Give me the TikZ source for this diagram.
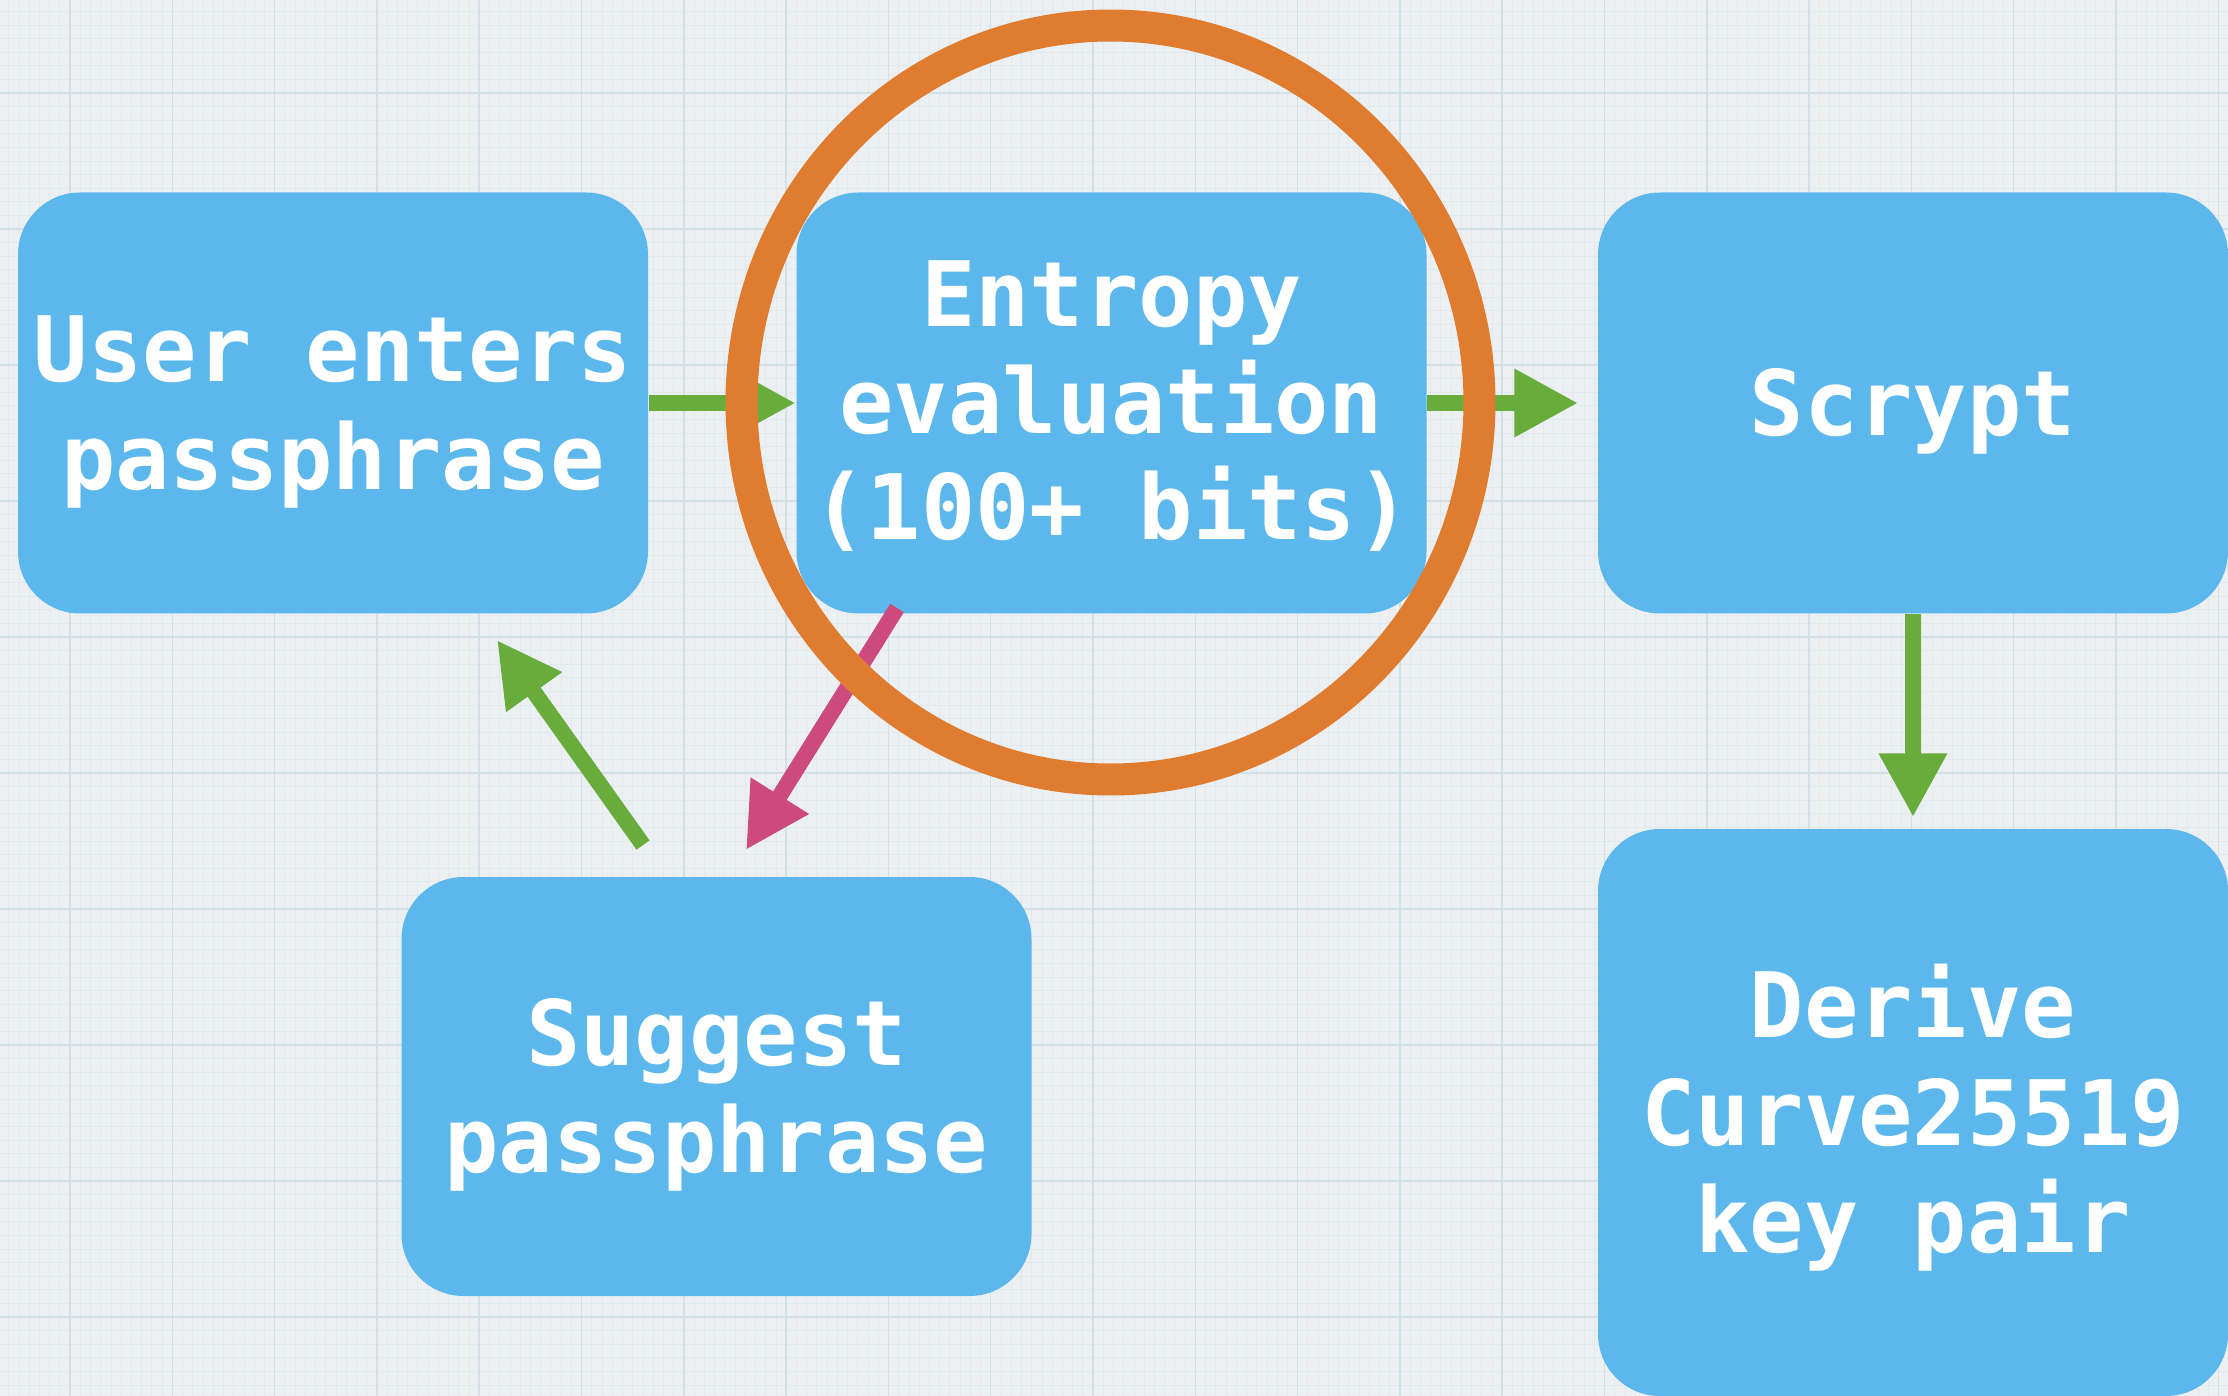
\documentclass[tikz,border=0pt]{standalone}
\usepackage{fontspec}
\setmonofont{DejaVu Sans Mono}
\usetikzlibrary{arrows.meta}
\definecolor{bg}{HTML}{EDF0F2}
\definecolor{gmaj}{HTML}{D1E1E5}
\definecolor{gmin}{HTML}{E2E9EC}
\definecolor{boxblue}{HTML}{5CB8EC}
\definecolor{arrgreen}{HTML}{68AD3C}
\definecolor{arrpink}{HTML}{CC4A7E}
\definecolor{ringorange}{HTML}{E07C2F}
\newcommand\toppad{\rule{0pt}{8.4mm}}
\newcommand\toppadsmall{\rule{0pt}{7.2mm}}
\tikzset{
  stepbox/.style={rectangle, rounded corners=6.2mm, fill=boxblue, text=white,
    align=center, inner sep=0pt, minimum width=63mm, minimum height=42.1mm,
    font=\ttfamily\bfseries\fontsize{25.7pt}{30.6pt}\selectfont},
  garrow/.style={draw=arrgreen, line width=1.6mm, -{Triangle[length=6.4mm,width=6.4mm]}},
  parrow/.style={draw=arrpink, line width=1.6mm, -{Triangle[length=6.4mm,width=6.4mm]}},
  ring/.style={draw=ringorange, line width=3.2mm},
  gridmajor/.style={draw=gmaj, line width=0.15mm},
  gridminor/.style={draw=gmin, line width=0.07mm}
}
\begin{document}
\begin{tikzpicture}[x=0.1mm,y=-0.1mm]
\useasboundingbox (0,0) rectangle (2228,1396);
\fill[bg] (0,0) rectangle (2228,1396);
% minor grid
\foreach \k in {-1,...,21}{\foreach \j in {1,...,9}{\draw[gridminor] ({70+102.3*\k+10.23*\j},0) -- ({70+102.3*\k+10.23*\j},1396);}}
\foreach \k in {-1,...,9}{\foreach \j in {1,...,9}{\draw[gridminor] (0,{93+136*\k+13.6*\j}) -- (2228,{93+136*\k+13.6*\j});}}
% major grid
\foreach \k in {0,...,21}{\draw[gridmajor] ({70+102.3*\k},0) -- ({70+102.3*\k},1396);}
\foreach \k in {0,...,9}{\draw[gridmajor] (0,{93+136*\k}) -- (2228,{93+136*\k});}
% boxes
\node[stepbox] (user) at (333,403) {\toppad User enters\\passphrase};
\node[stepbox, font=\ttfamily\bfseries\fontsize{25.7pt}{30.2pt}\selectfont] (entropy) at (1111.5,403) {\toppadsmall Entropy\\evaluation\\(100+ bits)};
\node[stepbox] (scrypt) at (1913,403) {\toppad Scrypt};
\node[stepbox, minimum height=41.9mm] (suggest) at (716.5,1086.5) {\toppad Suggest\\passphrase};
\node[stepbox, minimum height=56.7mm] (derive) at (1913,1112.5) {\toppad Derive\\Curve25519\\key pair};
% connectors
\coordinate (a4s) at (643,845);
\coordinate (a4e) at (497,640);
\coordinate (a5s) at (897,608);
\coordinate (a5e) at (746,850);
\draw[garrow] (user.east) -- (entropy.west);
\draw[garrow, shorten >=1.9mm] (entropy.east) -- (scrypt.west);
\draw[garrow, shorten >=1.1mm] (scrypt.south) -- (derive.north);
\draw[garrow] (a4s) -- (a4e);
\draw[parrow] (a5s) -- (a5e);
% highlight ring
\draw[ring] (1110.5,402.5) ellipse [x radius=36.9mm, y radius=37.7mm];
\end{tikzpicture}
\end{document}
